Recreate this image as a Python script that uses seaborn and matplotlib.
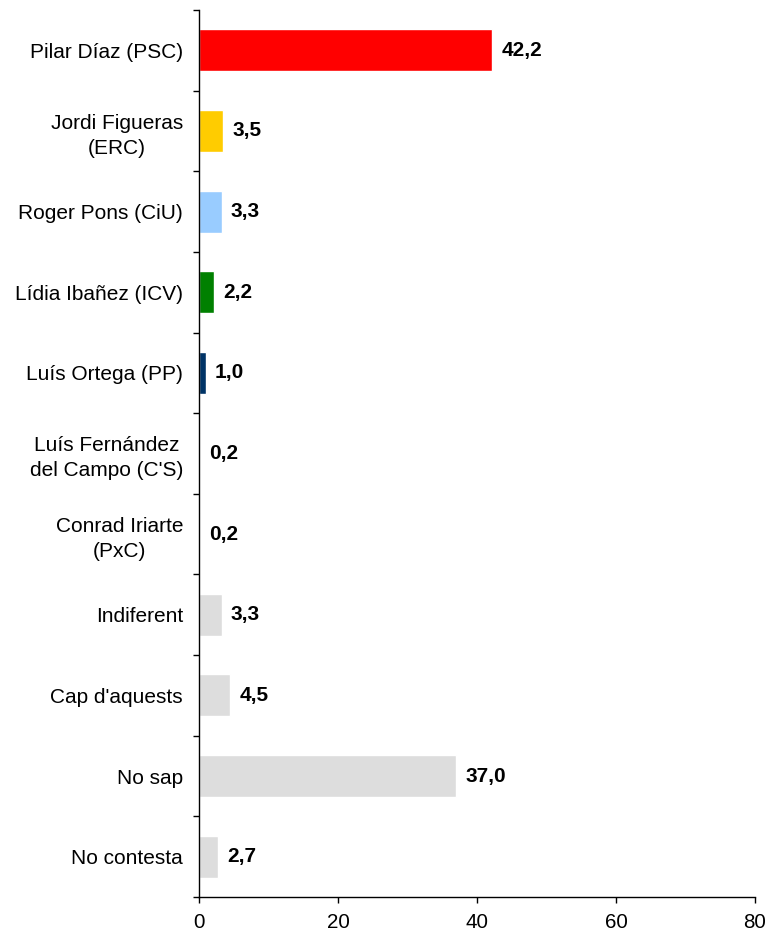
import matplotlib
matplotlib.use("Agg")
import matplotlib.pyplot as plt
import seaborn as sns
import pandas as pd

categories = [
    "Pilar Díaz (PSC)",
    "Jordi Figueras\n(ERC)",
    "Roger Pons (CiU)",
    "Lídia Ibañez (ICV)",
    "Luís Ortega (PP)",
    "Luís Fernández\ndel Campo (C'S)",
    "Conrad Iriarte\n(PxC)",
    "Indiferent",
    "Cap d'aquests",
    "No sap",
    "No contesta",
]
values = [42.2, 3.5, 3.3, 2.2, 1.0, 0.2, 0.2, 3.3, 4.5, 37.0, 2.7]
value_labels = ["42,2", "3,5", "3,3", "2,2", "1,0", "0,2", "0,2", "3,3", "4,5", "37,0", "2,7"]
colors = ["#FF0000", "#FFCC00", "#99CCFF", "#008000", "#003366",
          "#EEEEEE", "#EEEEEE", "#DDDDDD", "#DDDDDD", "#DDDDDD", "#DDDDDD"]
x_ticks = [0, 20, 40, 60, 80]

sns.set_theme(style="white")
plt.rcParams["font.family"] = ["Liberation Sans", "DejaVu Sans"]

df = pd.DataFrame({"cat": categories, "val": values})

fig = plt.figure(figsize=(7.69, 9.38), dpi=100)
ax = fig.add_axes([199 / 769, 1 - 897 / 938, (755 - 199) / 769, (897 - 10) / 938])

sns.barplot(data=df, x="val", y="cat", hue="cat", palette=colors, legend=False,
            orient="h", width=0.52, saturation=1, ax=ax, zorder=1)

ax.set_xlim(0, 80)
ax.set_ylim(len(categories) - 0.5, -0.5)
ax.set_xticks(x_ticks)
ax.set_xticklabels([str(t) for t in x_ticks], fontsize=14.8, color="black")
ax.set_xlabel("")
ax.set_ylabel("")

ax.set_yticks(range(len(categories)))
ax.set_yticklabels(categories, fontsize=15, color="black")
for lbl in ax.get_yticklabels():
    lbl.set_multialignment("center")
    lbl.set_linespacing(1.4)
ax.set_yticks([i - 0.5 for i in range(len(categories) + 1)], minor=True)
ax.tick_params(axis="y", which="major", length=0, pad=11.5)
ax.tick_params(axis="y", which="minor", length=4.5, width=1, color="black", direction="out", left=True)
ax.tick_params(axis="x", which="major", length=4.5, width=1, color="black", direction="out",
               bottom=True, pad=7)

for s in ["top", "right"]:
    ax.spines[s].set_visible(False)
for s in ["left", "bottom"]:
    ax.spines[s].set_color("black")
    ax.spines[s].set_linewidth(1.0)
ax.grid(False)

for i, (v, t) in enumerate(zip(values, value_labels)):
    ax.annotate(t, xy=(v, i), xytext=(6.5, 0), textcoords="offset points",
                ha="left", va="center", fontsize=15, fontweight="bold", color="black")

fig.savefig("out.png", dpi=100, facecolor="white")
